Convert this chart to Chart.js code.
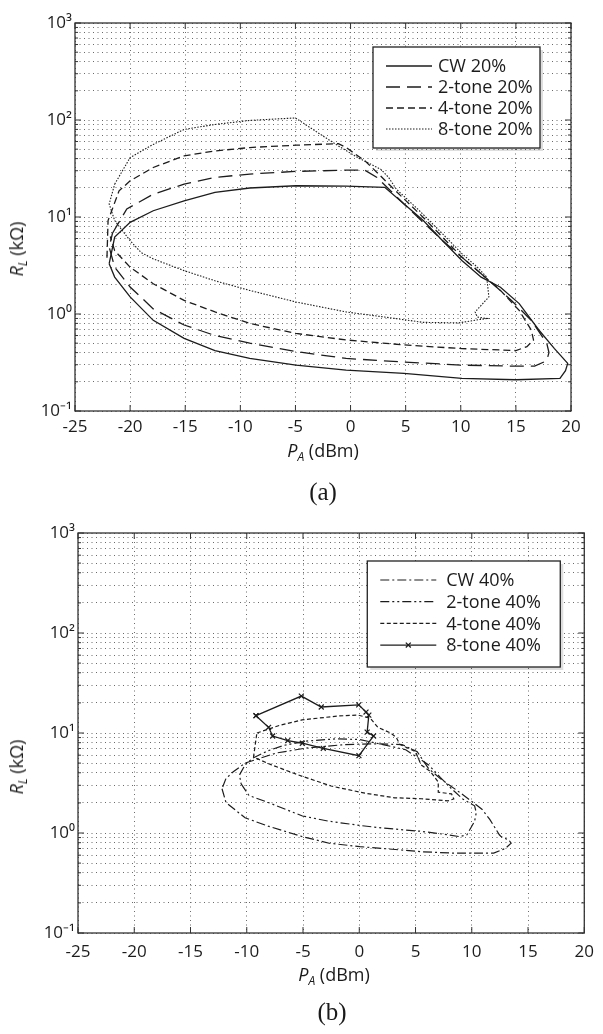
<!DOCTYPE html>
<html>
<head>
<meta charset="utf-8">
<script src="https://cdn.jsdelivr.net/npm/chart.js@4.4.1/dist/chart.umd.min.js"></script>
<style>
  body { margin: 0; background: #fff; width: 603px; height: 1034px; position: relative; overflow: hidden; font-family: 'Open Sans', sans-serif; color: #1a1a1a; }
  canvas { position: absolute; left: 0; }
  #chart-a { top: 0; }
  #chart-b { top: 505px; }
  .xt, .yt, .cap { position: absolute; white-space: nowrap; line-height: 1; }
  .xt { font-size: 18px; transform: translate(-50%, -50%); }
  .yt { font-size: 18px; transform: translate(-50%, -50%) rotate(-90deg); }
  .cap { font-family: 'Liberation Serif', serif; font-size: 25px; transform: translate(-50%, -50%); }
  sub { font-size: 12px; vertical-align: -4px; }
</style>
</head>
<body>
<canvas id="chart-a" width="603" height="480"></canvas>
<canvas id="chart-b" width="603" height="500"></canvas>

<div class="xt" style="left:323px; top:452px;"><i>P</i><sub><i>A</i></sub> (dBm)</div>
<div class="yt" style="left:18px; top:249px;"><i>R</i><sub><i>L</i></sub> (kΩ)</div>
<div class="cap" style="left:323px; top:491px;">(a)</div>

<div class="xt" style="left:334px; top:976px;"><i>P</i><sub><i>A</i></sub> (dBm)</div>
<div class="yt" style="left:18px; top:767px;"><i>R</i><sub><i>L</i></sub> (kΩ)</div>
<div class="cap" style="left:332px; top:1011px;">(b)</div>

<script>
// ejes
const xTicks = [-25, -20, -15, -10, -5, 0, 5, 10, 15, 20];
const yDecades = [0.1, 1, 10, 100, 1000];
const yTickLabels = ['10⁻¹', '10⁰', '10¹', '10²', '10³'];

// (a) 20%
const paCw20 = [-21.9, -21.4, -20, -17.9, -15.1, -12.3, -9.15, -4.95, -0.4, 3.1, 5.2, 6.6, 8.35, 10.1, 11.85, 13.6, 15.3, 17.1, 18.5, 19.7, 19.5, 19.0, 15.0, 10.1, 4.85, -0.4, -4.95, -9.15, -12.3, -15.1, -17.9, -20, -21.4, -21.9];
const rlCw20 = [3.3, 6.2, 8.8, 11.6, 14.7, 17.9, 19.9, 21, 20.8, 20.2, 12.6, 9.2, 5.7, 3.56, 2.4, 1.89, 1.28, 0.68, 0.44, 0.31, 0.26, 0.217, 0.21, 0.217, 0.244, 0.264, 0.297, 0.348, 0.42, 0.56, 0.86, 1.5, 2.4, 3.3];

const pa2t20 = [-21.6, -20.3, -17.9, -15.1, -12.3, -9.15, -4.95, -0.4, 1.3, 2.4, 4.85, 8.35, 11.85, 14.6, 16.4, 17.8, 18.0, 17.8, 16.7, 15, 10.1, 4.85, -0.4, -4.95, -9.15, -12.3, -15.1, -17.9, -20, -21.4, -21.9, -21.6];
const rl2t20 = [6.8, 12.1, 17.2, 21.8, 25.6, 27.7, 29.5, 30.4, 30.4, 25.6, 13.6, 5.7, 2.6, 1.38, 0.86, 0.5, 0.4, 0.33, 0.29, 0.29, 0.297, 0.32, 0.348, 0.41, 0.5, 0.6, 0.77, 1.13, 1.9, 3.04, 4.9, 6.8];

const pa4t20 = [-22.1, -22, -21, -20, -17.9, -15.1, -12.3, -9.15, -4.95, -1.1, -0.4, 1.3, 2.4, 3.8, 6.6, 10.1, 11.85, 13.6, 15.3, 16.4, 16.6, 16.0, 15, 10.1, 4.85, -0.4, -4.95, -9.15, -12.3, -15.1, -17.9, -20, -21.4, -21.8];
const rl4t20 = [3.8, 9.2, 18.6, 23.6, 32.4, 42.7, 48, 52, 55, 57, 52, 38, 28.8, 20, 9.9, 3.86, 2.6, 1.75, 1.09, 0.68, 0.54, 0.46, 0.42, 0.44, 0.48, 0.54, 0.63, 0.80, 1.05, 1.38, 2.05, 3.04, 4.5, 6.3];

const pa8t20 = [-21.4, -20, -17.9, -15.1, -12.3, -9.15, -5, -3.2, -1.1, 0.65, 2.75, 3.45, 4.15, 6.25, 8.35, 10.1, 11.5, 12.35, 12.55, 11.3, 11.5, 12.35, 9.8, 6.6, 3.1, -0.4, -4.95, -9.15, -12.3, -15.1, -17.9, -19, -20, -21.4, -21.9, -21.4];
const rl8t20 = [21.8, 41, 56, 80, 90, 99, 105, 77, 54, 41, 31, 25.6, 19.4, 11.6, 6.7, 4.2, 3.04, 2.4, 1.5, 1.05, 0.93, 0.9, 0.81, 0.82, 0.93, 1.05, 1.33, 1.75, 2.2, 2.8, 3.7, 4.3, 5.7, 9.2, 13.6, 21.8];

// (b) 40%
const paCw40 = [-12.2, -11.85, -10.15, -8.1, -5.05, -2.67, 0.05, 2.1, 5.5, 8.2, 11.27, 11.95, 12.97, 13.5, 13.3, 12.6, 12.45, 11.6, 10.9, 8.9, 7.2, 6.17, 5.15, 3.8, 1.4, -1.3, -4.7, -7.4, -10.15, -11.2, -11.85, -12.2];
const rlCw40 = [2.77, 2.02, 1.42, 1.17, 0.92, 0.79, 0.73, 0.70, 0.65, 0.63, 0.63, 0.63, 0.70, 0.79, 0.85, 0.92, 0.96, 1.37, 1.73, 2.56, 3.5, 4.4, 6.5, 7.66, 7.8, 7.66, 7.08, 6.3, 5.0, 4.1, 3.5, 2.77];

const pa2t40 = [-10.5, -9.8, -8.1, -5.05, -2.67, 0.05, 2.1, 5.5, 7.87, 8.9, 9.57, 10.25, 10.4, 10.25, 9.2, 8.2, 7.2, 6.17, 4.13, 2.1, 0.05, -1.98, -4.7, -6.75, -8.1, -9.47, -10.15, -10.65, -10.5];
const rl2t40 = [3.1, 2.37, 2.02, 1.48, 1.31, 1.19, 1.12, 1.04, 0.96, 0.92, 0.96, 1.31, 1.6, 1.87, 2.19, 2.77, 3.6, 4.8, 6.8, 7.66, 8.6, 8.75, 8.3, 7.5, 6.65, 5.6, 4.8, 3.8, 3.1];

const pa4t40 = [-9.1, -7.0, -5.1, -1.9, -0.1, 1.0, 1.65, 2.8, 3.3, 3.6, 5.0, 5.5, 6.34, 7.02, 7.02, 8.2, 8.4, 7.9, 5.5, 3.15, 0.5, -2.5, -5.4, -7.8, -9.4, -9.1];
const rl4t40 = [10.0, 12.0, 13.5, 14.8, 15.1, 14.0, 11.4, 10.0, 9.0, 7.7, 6.5, 4.8, 4.1, 3.24, 2.56, 2.46, 2.19, 2.1, 2.2, 2.25, 2.5, 2.95, 3.8, 4.8, 5.75, 10.0];

const pa8t40 = [-9.18, -5.15, -3.38, -0.05, 0.6, 0.85, 0.7, 1.27, -0.03, -3.2, -5.06, -6.35, -7.7, -8.06, -9.18];
const rl8t40 = [14.9, 23.4, 18.2, 19.1, 16.2, 15.1, 10.2, 9.33, 5.93, 7.03, 7.9, 8.4, 9.33, 11.4, 14.9];

const ink = '#1c1c1c';
const gridColor = '#6a6a6a';
const tickFont = { family: "'Open Sans', sans-serif", size: 17 };

const pts = (xs, ys) => xs.map((x, i) => ({ x: x, y: ys[i] }));

// lineas de la rejilla del eje log: 1..9 por decada
const yGrid = [];
yDecades.forEach((d, i) => {
  if (i === yDecades.length - 1) { yGrid.push(d); return; }
  for (let m = 1; m < 10; m++) yGrid.push(+(d * m).toPrecision(3));
});

const serie = (label, xs, ys, dash, width, extra) => Object.assign({
  label: label,
  data: pts(xs, ys),
  borderColor: ink,
  backgroundColor: ink,
  borderWidth: width,
  borderDash: dash,
  pointRadius: 0,
  fill: false
}, extra || {});

// marco con ticks hacia adentro (estilo matlab)
const frame = {
  id: 'frame',
  afterDraw(chart) {
    const { ctx, chartArea: ca, scales } = chart;
    ctx.save();
    ctx.strokeStyle = '#333';
    ctx.lineWidth = 1.3;
    ctx.setLineDash([]);
    ctx.strokeRect(ca.left, ca.top, ca.right - ca.left, ca.bottom - ca.top);
    ctx.lineWidth = 1;
    ctx.beginPath();
    scales.x.ticks.forEach(t => {
      const x = scales.x.getPixelForValue(t.value);
      ctx.moveTo(x, ca.bottom); ctx.lineTo(x, ca.bottom - 6);
      ctx.moveTo(x, ca.top); ctx.lineTo(x, ca.top + 6);
    });
    scales.y.ticks.forEach(t => {
      const y = scales.y.getPixelForValue(t.value);
      const len = yDecades.indexOf(t.value) >= 0 ? 6 : 3;
      ctx.moveTo(ca.left, y); ctx.lineTo(ca.left + len, y);
      ctx.moveTo(ca.right, y); ctx.lineTo(ca.right - len, y);
    });
    ctx.stroke();
    ctx.restore();
  }
};

// leyenda dentro del area del grafico
const boxLegend = {
  id: 'boxLegend',
  afterDraw(chart, args, o) {
    const { ctx, chartArea: ca } = chart;
    const x0 = ca.right - o.right - o.w;
    const y0 = ca.top + o.top;
    ctx.save();
    ctx.fillStyle = 'rgba(0,0,0,0.13)';
    ctx.fillRect(x0 + 3, y0 + 3, o.w, o.h);
    ctx.fillStyle = '#fff';
    ctx.fillRect(x0, y0, o.w, o.h);
    ctx.strokeStyle = '#222';
    ctx.lineWidth = 1.3;
    ctx.strokeRect(x0, y0, o.w, o.h);
    chart.data.datasets.forEach((ds, i) => {
      const y = y0 + o.first + i * o.step;
      ctx.beginPath();
      ctx.setLineDash(ds.borderDash || []);
      ctx.lineWidth = ds.borderWidth;
      ctx.strokeStyle = ds.borderColor;
      ctx.moveTo(x0 + o.s0, y);
      ctx.lineTo(x0 + o.s1, y);
      ctx.stroke();
      ctx.setLineDash([]);
      if (ds.pointRadius) {
        Chart.helpers.drawPoint(ctx, { pointStyle: ds.pointStyle, radius: ds.pointRadius, borderWidth: ds.pointBorderWidth }, x0 + (o.s0 + o.s1) / 2, y);
      }
      ctx.fillStyle = ink;
      ctx.font = "18px 'Open Sans', sans-serif";
      ctx.textBaseline = 'middle';
      ctx.fillText(ds.label, x0 + o.tx, y + 1);
    });
    ctx.restore();
  }
};

const makeChart = (id, datasets, lay, legendOpts) => new Chart(document.getElementById(id), {
  type: 'line',
  data: { datasets: datasets },
  options: {
    responsive: false,
    animation: false,
    layout: { padding: { top: lay.top, right: lay.right, left: 0, bottom: 0 } },
    elements: { line: { tension: 0 } },
    plugins: { legend: { display: false }, tooltip: { enabled: false }, boxLegend: legendOpts },
    scales: {
      x: {
        type: 'linear', min: -25, max: 20,
        afterBuildTicks: axis => { axis.ticks = xTicks.map(v => ({ value: v })); },
        afterFit: axis => { axis.height = lay.xh; },
        ticks: { font: tickFont, color: ink, padding: lay.xpad, maxRotation: 0, autoSkip: false },
        grid: { color: gridColor, lineWidth: 1, drawTicks: false },
        border: { display: false, dash: [1, 3.5] }
      },
      y: {
        type: 'logarithmic', min: 0.1, max: 1000,
        afterBuildTicks: axis => { axis.ticks = yGrid.map(v => ({ value: v })); },
        afterFit: axis => { axis.width = lay.yw; },
        ticks: {
          font: tickFont, color: ink, padding: 3, autoSkip: false,
          callback: v => { const i = yDecades.indexOf(v); return i < 0 ? '' : yTickLabels[i]; }
        },
        grid: { color: gridColor, lineWidth: 1, drawTicks: false },
        border: { display: false, dash: [1, 3.5] }
      }
    }
  },
  plugins: [frame, boxLegend]
});

makeChart('chart-a', [
  serie('CW 20%', paCw20, rlCw20, [], 1.3),
  serie('2-tone 20%', pa2t20, rl2t20, [14, 7], 1.3),
  serie('4-tone 20%', pa4t20, rl4t20, [7, 4], 1.3),
  serie('8-tone 20%', pa8t20, rl8t20, [1.5, 1.5], 1.1)
], { top: 23, right: 32, yw: 75, xh: 69, xpad: 6 },
{ right: 31, top: 24, w: 167, h: 101, first: 19, step: 21, s0: 13, s1: 59, tx: 65 });

makeChart('chart-b', [
  serie('CW 40%', paCw40, rlCw40, [9, 3, 2, 3], 1.2),
  serie('2-tone 40%', pa2t40, rl2t40, [9, 3, 2, 3, 2, 3], 1.2),
  serie('4-tone 40%', pa4t40, rl4t40, [4, 2.5], 1.2),
  serie('8-tone 40%', pa8t40, rl8t40, [], 1.3, { pointRadius: 3.5, pointStyle: 'crossRot', pointBorderWidth: 1.2 })
], { top: 28, right: 15, yw: 78, xh: 72, xpad: 9 },
{ right: 24, top: 28, w: 193, h: 106, first: 19, step: 21.7, s0: 13, s1: 69, tx: 79 });
</script>
</body>
</html>
